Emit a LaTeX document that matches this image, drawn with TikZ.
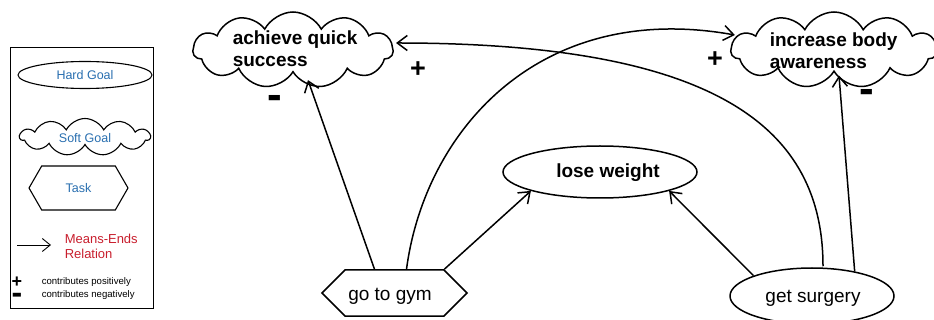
\documentclass[tikz,border=0pt]{standalone}
\usepackage{fontspec}
\setmainfont{Liberation Sans}
\usetikzlibrary{shapes.symbols,shapes.geometric,arrows.meta,calc}
\definecolor{legblue}{RGB}{40,110,175}
\definecolor{legred}{RGB}{200,30,45}
\begin{document}
\begin{tikzpicture}[x=1pt,y=-1pt,line width=1.5pt,
  me/.style={-{Straight Barb[length=10pt,width=15pt,line width=1.5pt]}},
  softgoal/.style={cloud, cloud puffs=11, cloud puff arc=125, draw, aspect=2.6, inner sep=0pt},
  hardgoal/.style={ellipse, draw, inner sep=0pt},
  taskbox/.style={signal, signal to=west and east, draw, inner sep=0pt},
  big/.style={font=\fontsize{19}{22}\selectfont\bfseries, align=left, inner sep=0pt},
  reg/.style={font=\fontsize{19}{22}\selectfont, inner sep=0pt},
  leg/.style={font=\fontsize{12.5}{14}\selectfont, text=legblue, inner sep=0pt},
  sign/.style={font=\fontsize{27}{27}\selectfont\bfseries, inner sep=0pt},
  msign/.style={font=\fontsize{44}{44}\selectfont\bfseries, inner sep=0pt, anchor=base, text height=14pt, text depth=0pt}]
\useasboundingbox (0,0) rectangle (934,320);
\clip (0,0) rectangle (934,320);
% legend
\node[draw, line width=0.7pt, minimum width=143pt, minimum height=261pt, inner sep=0pt] (legbox) at (81.5,177.5) {};
\node[hardgoal, line width=1.1pt, minimum width=134pt, minimum height=27pt] (lhg) at (85,75) {};
\node[leg] (lhgt) at (85,75) {Hard Goal};
\node[softgoal, line width=1.1pt, minimum width=130pt, minimum height=37pt] (lsg) at (85,137) {};
\node[leg] (lsgt) at (85,138) {Soft Goal};
\node[taskbox, line width=1.1pt, signal pointer angle=120, minimum width=99pt, minimum height=44pt] (ltk) at (78.5,188) {};
\node[leg] (ltkt) at (78.5,188) {Task};
\coordinate (la1) at (17,245);
\coordinate (la2) at (51,245);
\draw[line width=0.9pt,-{Straight Barb[length=8pt,width=13pt,line width=0.9pt]}] (la1) -- (la2);
\node[font=\fontsize{13}{15}\selectfont, text=legred, align=left, anchor=west, inner sep=0pt] (lmer) at (64,246) {Means-Ends\\Relation};
\node[font=\fontsize{18}{18}\selectfont\bfseries, inner sep=0pt, text height=9pt, text depth=0pt] (lplus) at (17,283) {+};
\node[font=\fontsize{32}{32}\selectfont\bfseries, inner sep=0pt, anchor=base, text height=10pt, text depth=0pt] (lminus) at (17,304) {-};
\node[font=\fontsize{9.6}{11}\selectfont, anchor=west, inner sep=0pt] (lpos) at (41,282) {contributes positively};
\node[font=\fontsize{9.6}{11}\selectfont, anchor=west, inner sep=0pt] (lneg) at (41,295) {contributes negatively};
% main nodes
\node[softgoal, minimum width=200pt, minimum height=76pt] (qs) at (293,50) {};
\node[big, anchor=west] (qst) at (232,49) {achieve quick\\success};
\node[softgoal, minimum width=206pt, minimum height=76pt] (iba) at (834,50) {};
\node[big, anchor=west] (ibat) at (769,51) {increase body\\awareness};
\node[hardgoal, minimum width=194pt, minimum height=52pt] (lw) at (600,172) {};
\node[big] (lwt) at (608,173) {lose weight};
\node[taskbox, signal pointer angle=90, minimum width=145pt, minimum height=46pt] (gym) at (394.5,293) {};
\node[reg] (gymt) at (390,296) {go to gym};
\node[hardgoal, minimum width=164pt, minimum height=56pt] (gs) at (812,296) {};
\node[reg] (gst) at (813,298) {get surgery};
% connectors
\draw[me] ($(gym.north)+(-20,0)$) -- ($(qs.south)+(15,7)$);
\draw[me] (gym.north east) -- (lw.south west);
\draw[me] ($(gym.north)+(12,0)$) .. controls (425,130) and (540,0) .. ($(iba.west)+(5,-15)$);
\draw[me] ($(gs.north)+(11,-1)$) .. controls (823,130) and (720,43) .. ($(qs.east)+(2,-7)$);
\draw[me] (gs.north west) -- (lw.south east);
\draw[me] (gs.30) -- ($(iba.south)+(5,3)$);
% contribution labels
\node[sign] (p1) at (418,70) {+};
\node[msign] (m1) at (275,110) {-};
\node[sign] (p2) at (715,60) {+};
\node[msign] (m2) at (867,104) {-};
\end{tikzpicture}
\end{document}
